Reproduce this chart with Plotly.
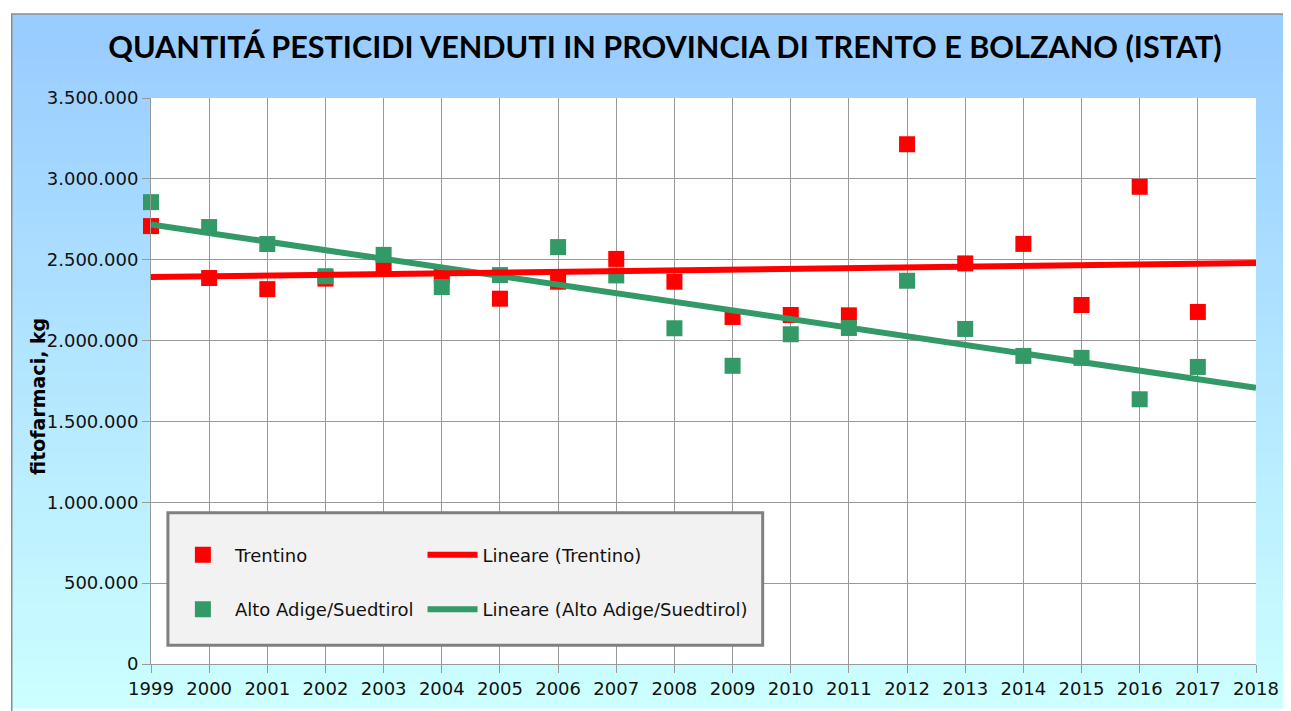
import numpy as np
import plotly.graph_objects as go

# Data (kg of pesticides sold)
anni = [1999, 2000, 2001, 2002, 2003, 2004, 2005, 2006, 2007, 2008,
        2009, 2010, 2011, 2012, 2013, 2014, 2015, 2016, 2017]
trentino = [2708000, 2387000, 2318000, 2383000, 2452000, 2404000, 2259000, 2364000, 2505000, 2364000,
            2146000, 2158000, 2156000, 3214000, 2477000, 2598000, 2220000, 2951000, 2177000]
alto_adige = [2856000, 2702000, 2597000, 2398000, 2530000, 2331000, 2405000, 2578000, 2403000, 2076000,
              1844000, 2039000, 2078000, 2370000, 2072000, 1905000, 1893000, 1637000, 1837000]
trend_x = [1999, 2018]

ROSSO = "#FF0000"
VERDE = "#339966"
FONT = "DejaVu Sans"

# page has an 8px body margin; figure sized to fit the window
OFF = 8
W, H = 1291 - OFF, 711 - OFF
# plot area measured on the screenshot: x 151..1262, y 98..671
L, R, T, B = 151 - OFF, 1291 - 1262, 98 - OFF, 711 - 671
PW, PH = W - L - R, H - T - B


def px_x(p):
    # screenshot x pixel -> paper coordinate
    return (p - OFF - L) / PW


def px_y(p):
    # screenshot y pixel -> paper coordinate
    return (H - B - (p - OFF)) / PH


def linear_trend(x, y):
    k, q = np.polyfit(x, y, 1)
    return [k * v + q for v in trend_x]


fig = go.Figure()
fig.add_trace(go.Scatter(
    x=anni, y=trentino, mode="markers", name="Trentino",
    marker=dict(symbol="square", size=16, color=ROSSO),
    cliponaxis=False, legend="legend", legendgroup="a", legendrank=1,
))
fig.add_trace(go.Scatter(
    x=anni, y=alto_adige, mode="markers", name="Alto Adige/Suedtirol",
    marker=dict(symbol="square", size=16, color=VERDE),
    cliponaxis=False, legend="legend", legendgroup="b", legendrank=2,
))
fig.add_trace(go.Scatter(
    x=trend_x, y=linear_trend(anni, alto_adige), mode="lines",
    name="Lineare (Alto Adige/Suedtirol)", line=dict(color=VERDE, width=6),
    legend="legend2", legendgroup="d", legendrank=2,
))
fig.add_trace(go.Scatter(
    x=trend_x, y=linear_trend(anni, trentino), mode="lines",
    name="Lineare (Trentino)", line=dict(color=ROSSO, width=6),
    legend="legend2", legendgroup="c", legendrank=1,
))

# background gradient of the chart area (light blue -> pale cyan)
shapes = []
n = 60
top, bot = 13, 715
for i in range(n):
    t = i / (n - 1)
    r = int(153 + (204 - 153) * t)
    g = int(204 + (255 - 204) * t)
    y0 = top + (bot - top) * i / n
    y1 = top + (bot - top) * (i + 1) / n + 1
    shapes.append(dict(type="rect", xref="paper", yref="paper",
                       x0=px_x(11), x1=px_x(1291), y0=px_y(y1), y1=px_y(y0),
                       fillcolor=f"rgb({r},{g},255)", line=dict(width=0), layer="below"))
shapes.append(dict(type="rect", xref="x domain", yref="y domain", x0=0, x1=1, y0=0, y1=1,
                   fillcolor="white", line=dict(width=0), layer="below"))
shapes.append(dict(type="rect", xref="paper", yref="paper",
                   x0=px_x(11), x1=px_x(1290), y0=px_y(720), y1=px_y(13),
                   fillcolor="rgba(0,0,0,0)", line=dict(color="#8c8c8c", width=1.5), layer="below"))
# legend frame
shapes.append(dict(type="rect", xref="paper", yref="paper",
                   x0=px_x(168), x1=px_x(766), y0=px_y(652), y1=px_y(518),
                   fillcolor="#F2F2F2", line=dict(color="#808080", width=3), layer="above"))

fig.update_layout(
    width=W, height=H,
    margin=dict(l=L, r=R, t=T, b=B),
    paper_bgcolor="white",
    plot_bgcolor="white",
    separators=",.",
    font=dict(family=FONT, size=18, color="#111111"),
    shapes=shapes,
    title=dict(
        text="<b>QUANTITÁ PESTICIDI VENDUTI IN PROVINCIA DI TRENTO E BOLZANO (ISTAT)</b>",
        font=dict(family="Lato", size=30.6, color="black"),
        x=(665 - OFF) / W, xanchor="center", y=1 - (47 - OFF) / H, yanchor="middle",
    ),
    xaxis=dict(
        range=[1999, 2018], dtick=1, tick0=1999,
        showgrid=True, gridcolor="#999999", gridwidth=1,
        showline=True, linecolor="#999999", linewidth=1,
        ticks="outside", ticklen=8, tickcolor="#999999",
        zeroline=False, tickfont=dict(family=FONT, size=18),
    ),
    yaxis=dict(
        range=[0, 3500000], dtick=500000, tickformat=",d",
        showgrid=True, gridcolor="#999999", gridwidth=1,
        showline=True, linecolor="#999999", linewidth=1,
        ticks="outside", ticklen=8, tickcolor="#999999",
        zeroline=False, tickfont=dict(family=FONT, size=18),
    ),
    legend=dict(
        x=px_x(171), y=px_y(542), xanchor="left", yanchor="top",
        bgcolor="rgba(0,0,0,0)", borderwidth=0, itemwidth=54,
        traceorder="grouped", tracegroupgap=28,
        font=dict(family=FONT, size=18, color="#111111"),
    ),
    legend2=dict(
        x=px_x(424), y=px_y(542), xanchor="left", yanchor="top",
        bgcolor="rgba(0,0,0,0)", borderwidth=0, itemwidth=50,
        traceorder="grouped", tracegroupgap=28,
        font=dict(family=FONT, size=18, color="#111111"),
    ),
    annotations=[dict(
        text="<b>fitofarmaci, kg</b>", textangle=-90,
        xref="paper", yref="paper", x=px_x(38), y=px_y(400),
        xanchor="center", yanchor="middle", showarrow=False,
        font=dict(family=FONT, size=19, color="black"),
    )],
)

fig.write_html("out.html")
